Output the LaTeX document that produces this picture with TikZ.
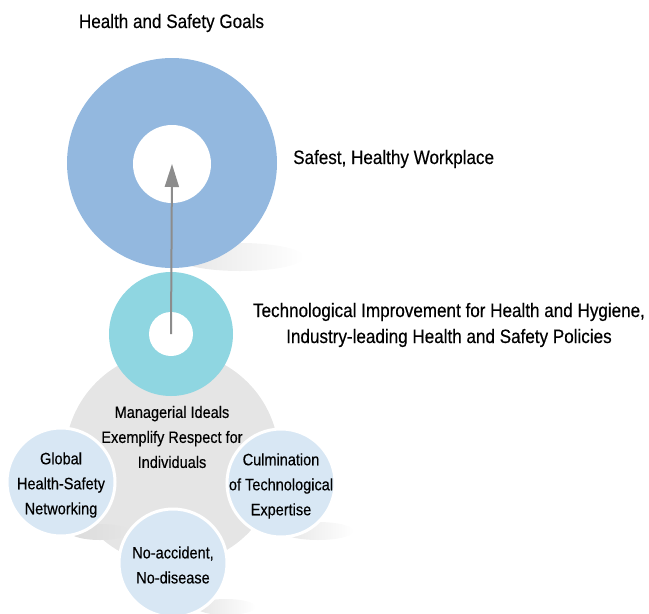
\documentclass[tikz,border=0pt]{standalone}
\usepackage{fontspec}
\setmainfont[FakeStretch=0.88,FakeBold=0.35]{Liberation Sans}
\usetikzlibrary{arrows.meta,shadings}
\definecolor{goalblue}{HTML}{93B8DF}
\definecolor{tealc}{HTML}{8FD6E1}
\definecolor{paleblue}{HTML}{D8E7F4}
\definecolor{greyc}{HTML}{E5E5E5}
\definecolor{arrowgrey}{HTML}{8C8C8C}
\tikzset{
  disc/.style={circle,inner sep=0pt,minimum size=#1},
  smallc/.style={circle,inner sep=0pt,minimum size=108pt,fill=paleblue,draw=white,line width=3pt},
  lbl/.style={inner sep=0pt,font=\fontsize{16.5}{25}\selectfont,align=center},
  biglbl/.style={inner sep=0pt,font=\fontsize{19.4}{26}\selectfont,align=center},
  shadowfill/.style={left color=black!10,right color=white,draw=none},
}
\begin{document}
\begin{tikzpicture}[x=1pt,y=-1pt]
\useasboundingbox (0,0) rectangle (649,614);
% shadows
\shade[shadowfill] (240,257) ellipse [x radius=64, y radius=14];
\shade[shadowfill] (318,531) ellipse [x radius=36, y radius=9];
\shade[shadowfill] (226,607) ellipse [x radius=30, y radius=8];
% top goal ring
\node[disc=210pt,fill=goalblue] (goal) at (172,163) {};
\node[disc=78pt,fill=white] (goalhole) at (172,164) {};
% grey base disc
\node[disc=214pt,fill=greyc] (base) at (172,458) {};
\shade[left color=black!14,right color=greyc,draw=none] (100,532) ellipse [x radius=30, y radius=8];
% teal ring
\node[disc=124pt,fill=tealc] (tech) at (171,334) {};
\node[disc=44pt,fill=white] (techhole) at (171,334) {};
% arrow
\draw[arrowgrey,line width=2pt,-{Triangle[width=14pt,length=23pt]}] (techhole.center) -- (goalhole.center);
% small circles
\node[smallc] (global) at (61,482) {};
\node[smallc] (culm) at (281,483) {};
\node[smallc] (noacc) at (173,563) {};
% texts
\node[biglbl,anchor=base] (title) at (171.5,28) {Health and Safety Goals};
\node[biglbl,anchor=base west] (safest) at (293,164) {Safest, Healthy Workplace};
\node[biglbl,anchor=center] (techtxt) at (449,325) {Technological Improvement for Health and Hygiene,\\Industry-leading Health and Safety Policies};
\node[lbl,anchor=center] (mgmt) at (172,437) {Managerial Ideals\\Exemplify Respect for\\Individuals};
\node[lbl,anchor=center] at (global.center) [yshift=-3pt] {Global\\Health-Safety\\Networking};
\node[lbl,anchor=center] at (culm.center) [yshift=-3pt] {Culmination\\of Technological\\Expertise};
\node[lbl,anchor=center] at (noacc.center) [yshift=-2pt] {No-accident,\\No-disease};
\end{tikzpicture}
\end{document}
